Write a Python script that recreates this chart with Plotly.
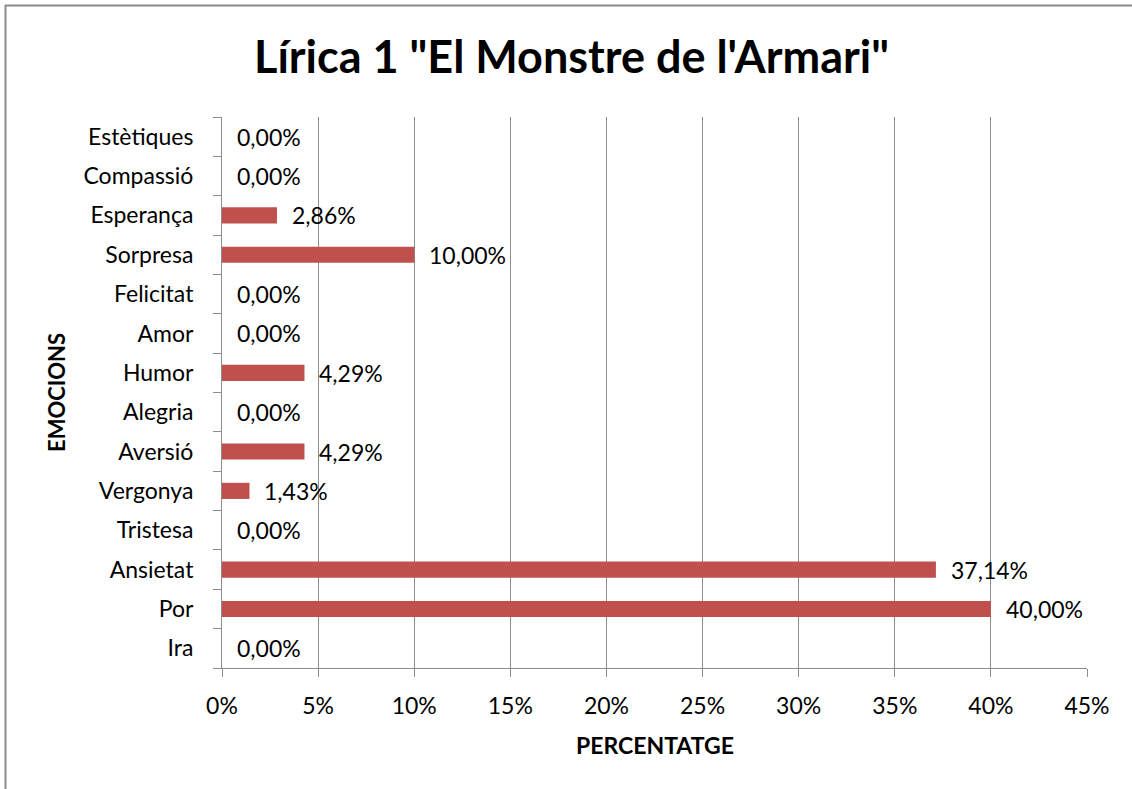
import plotly.graph_objects as go

categories = ["Ira", "Por", "Ansietat", "Tristesa", "Vergonya", "Aversió", "Alegria",
              "Humor", "Amor", "Felicitat", "Sorpresa", "Esperança", "Compassió", "Estètiques"]
values = [0.0, 40.00, 37.14, 0.0, 1.43, 4.29, 0.0, 4.29, 0.0, 0.0, 10.00, 2.86, 0.0, 0.0]
labels = [f"{v:.2f}%".replace(".", ",") for v in values]
x_ticks = [0, 5, 10, 15, 20, 25, 30, 35, 40, 45]
x_ticktext = [f"{t}%" for t in x_ticks]

FONT = "Lato"
FS = 23
W, H = 1132, 789
L, R, T, B = 222, 45, 117, 121
PW, PH = W - L - R, H - T - B

def px(xp):
    return (xp - L) / PW

def py(yp):
    return (H - B - yp) / PH

fig = go.Figure()
fig.add_trace(go.Bar(
    x=values, y=categories, orientation="h",
    marker=dict(color="#C0504D", line=dict(width=0)),
    width=0.41, hoverinfo="skip",
))

for c, v, t in zip(categories, values, labels):
    fig.add_annotation(x=v, y=c, xref="x", yref="y", text=t, showarrow=False,
                       xanchor="left", yanchor="middle", xshift=13,
                       font=dict(family=FONT, size=FS, color="#000"))

# titles
fig.add_annotation(x=px(571), y=py(56), xref="paper", yref="paper",
                   text="<b>Lírica 1 \"El Monstre de l'Armari\"</b>", showarrow=False,
                   xanchor="center", yanchor="middle",
                   font=dict(family=FONT, size=45, color="#000"))
fig.add_annotation(x=px(654.5), y=py(745), xref="paper", yref="paper",
                   text="<b>PERCENTATGE</b>", showarrow=False,
                   xanchor="center", yanchor="middle",
                   font=dict(family=FONT, size=23, color="#000"))
fig.add_annotation(x=px(56), y=py(393), xref="paper", yref="paper",
                   text="<b>EMOCIONS</b>", showarrow=False, textangle=-90,
                   xanchor="center", yanchor="middle",
                   font=dict(family=FONT, size=22, color="#000"))

# outer chart border (top and left)
fig.add_shape(type="line", xref="paper", yref="paper",
              x0=px(5), x1=px(1140), y0=py(5.5), y1=py(5.5),
              line=dict(color="#8c8c8c", width=2))
fig.add_shape(type="line", xref="paper", yref="paper",
              x0=px(5.5), x1=px(5.5), y0=py(5), y1=py(800),
              line=dict(color="#8c8c8c", width=2))

fig.update_layout(
    width=W, height=H,
    margin=dict(l=L, r=R, t=T, b=B, pad=0),
    paper_bgcolor="white", plot_bgcolor="white",
    showlegend=False,
    font=dict(family=FONT, size=FS, color="#000"),
    xaxis=dict(
        range=[0, 45], tickmode="array", tickvals=x_ticks, ticktext=x_ticktext,
        showgrid=True, gridcolor="#8c8c8c", gridwidth=1,
        showline=True, linecolor="#8c8c8c", linewidth=1,
        ticks="outside", ticklen=8, tickcolor="#8c8c8c", tickwidth=1,
        ticklabelstandoff=9,
        tickfont=dict(family=FONT, size=FS, color="#000"),
        zeroline=False, fixedrange=True,
    ),
    yaxis=dict(
        type="category", categoryorder="array", categoryarray=categories,
        showgrid=False, showline=True, linecolor="#8c8c8c", linewidth=1,
        ticks="outside", ticklen=8, tickcolor="#8c8c8c", tickwidth=1,
        tickson="boundaries", ticklabelstandoff=23,
        tickfont=dict(family=FONT, size=FS, color="#000"),
        zeroline=False, fixedrange=True,
    ),
)

fig.write_html("out.html", config={"displayModeBar": False},
               post_script="document.body.style.margin='0';document.body.style.overflow='hidden';")
